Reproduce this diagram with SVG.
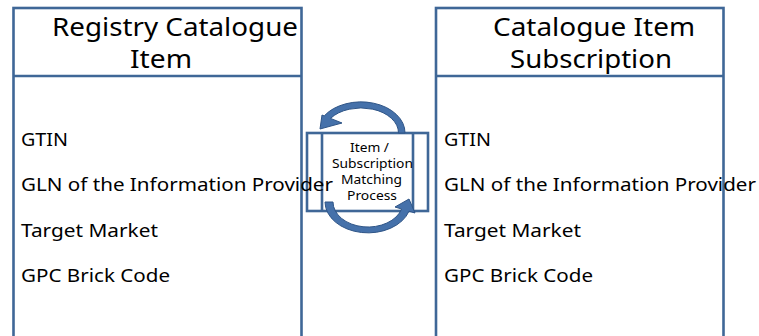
<svg xmlns="http://www.w3.org/2000/svg" width="759" height="336" viewBox="0 0 759 336">
<style>
.box{fill:none;stroke:#3F6797;stroke-width:2.6}
.hdr{font-family:"Noto Sans","Open Sans",sans-serif;font-size:25.5px;fill:#000}
.fld{font-family:"Noto Sans","Open Sans",sans-serif;font-size:18px;fill:#000}
.mid{font-family:"Noto Sans","Open Sans",sans-serif;font-size:12.5px;fill:#000}
.arr{fill:#4571AA;stroke:#2F5587;stroke-width:1}
</style>
<rect width="759" height="336" fill="#fff"/>
<g id="registry-item">
<rect class="box" x="13.5" y="8" width="288" height="340"/>
<line class="box" x1="13.5" y1="76" x2="301.5" y2="76"/>
<text class="hdr" x="52" y="36" textLength="246" lengthAdjust="spacingAndGlyphs">Registry Catalogue</text>
<text class="hdr" x="130" y="68" textLength="62" lengthAdjust="spacingAndGlyphs">Item</text>
</g>
<g id="subscription">
<rect class="box" x="436" y="8" width="287.5" height="340"/>
<line class="box" x1="436" y1="76" x2="723.5" y2="76"/>
<text class="hdr" x="493" y="36" textLength="202" lengthAdjust="spacingAndGlyphs">Catalogue Item</text>
<text class="hdr" x="510" y="68" textLength="162" lengthAdjust="spacingAndGlyphs">Subscription</text>
</g>
<g id="matching-process">
<rect class="box" x="307" y="133" width="121" height="78" style="fill:#fff"/>
<line class="box" x1="322" y1="133" x2="322" y2="211"/>
<line class="box" x1="413" y1="133" x2="413" y2="211"/>
<text class="mid" x="350" y="152" textLength="39" lengthAdjust="spacingAndGlyphs">Item /</text>
<text class="mid" x="332" y="168" textLength="81" lengthAdjust="spacingAndGlyphs">Subscription</text>
<text class="mid" x="341" y="184" textLength="61" lengthAdjust="spacingAndGlyphs">Matching</text>
<text class="mid" x="347" y="200" textLength="50" lengthAdjust="spacingAndGlyphs">Process</text>
</g>
<g id="connectors">
<path class="arr" d="M405,133 A44,31 0 0 0 324.2,115.9 L322,115 L320,129 L342,123 L330.5,118.4 A37.5,25 0 0 1 398.5,133 Z"/>
<path class="arr" d="M325,202 A43,31 0 0 0 409,211.2 L415,213 L409,199 L395,207 L401.6,209 A35,25 0 0 1 333,202 Z"/>
</g>
<g id="fields-left">
<text class="fld" x="21" y="146" textLength="47" lengthAdjust="spacingAndGlyphs">GTIN</text>
<text class="fld" x="21" y="191" textLength="312" lengthAdjust="spacingAndGlyphs">GLN of the Information Provider</text>
<text class="fld" x="21" y="237" textLength="137" lengthAdjust="spacingAndGlyphs">Target Market</text>
<text class="fld" x="21" y="282" textLength="149" lengthAdjust="spacingAndGlyphs">GPC Brick Code</text>
</g>
<g id="fields-right">
<text class="fld" x="444" y="146" textLength="47" lengthAdjust="spacingAndGlyphs">GTIN</text>
<text class="fld" x="444" y="191" textLength="312" lengthAdjust="spacingAndGlyphs">GLN of the Information Provider</text>
<text class="fld" x="444" y="237" textLength="137" lengthAdjust="spacingAndGlyphs">Target Market</text>
<text class="fld" x="444" y="282" textLength="149" lengthAdjust="spacingAndGlyphs">GPC Brick Code</text>
</g>
</svg>
